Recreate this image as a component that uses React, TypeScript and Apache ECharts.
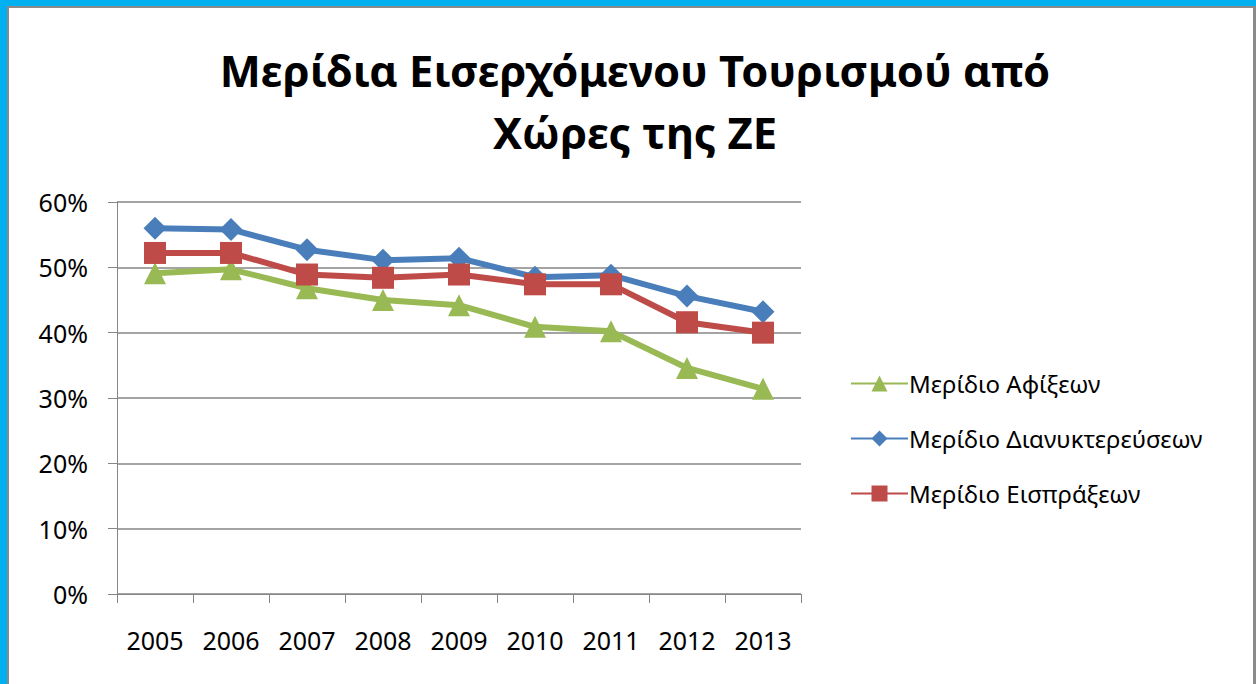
import React, { useEffect, useRef } from "react";
import * as echarts from "echarts";

const years = ["2005", "2006", "2007", "2008", "2009", "2010", "2011", "2012", "2013"];
const arrivalsShare = [49.1, 49.7, 46.8, 45.0, 44.2, 40.9, 40.2, 34.6, 31.4];
const overnightsShare = [56.0, 55.8, 52.7, 51.1, 51.4, 48.5, 48.8, 45.6, 43.2];
const receiptsShare = [52.2, 52.2, 48.9, 48.4, 48.9, 47.4, 47.4, 41.6, 40.0];
const yTicks = { min: 0, max: 60, interval: 10 };

const FONT = "'Noto Sans', 'Open Sans', sans-serif";
const GRID_GRAY = "#868686";

export default function App() {
  const ref = useRef<HTMLDivElement>(null);

  useEffect(() => {
    const chart = echarts.init(ref.current!, null, { renderer: "svg" });
    const mk = (name: string, data: number[], color: string, symbol: string, size: number) => ({
      name,
      type: "line",
      data,
      symbol,
      symbolSize: size,
      lineStyle: { color, width: 6 },
      itemStyle: { color },
      emphasis: { disabled: true },
    });
    chart.setOption({
      animation: false,
      backgroundColor: "transparent",
      textStyle: { fontFamily: FONT },
      title: {
        text: "Μερίδια Εισερχόμενου Τουρισμού από\nΧώρες της ΖΕ",
        left: 630,
        textAlign: "center",
        top: 34,
        textStyle: {
          fontFamily: FONT,
          fontSize: 43.5,
          fontWeight: "bold",
          color: "#000",
          lineHeight: 62,
        },
      },
      grid: { left: 117, right: 455, top: 202, bottom: 90, containLabel: false },
      legend: {
        orient: "vertical",
        left: 845,
        top: 366,
        itemWidth: 57,
        itemHeight: 20,
        itemGap: 30,
        data: ["Μερίδιο Αφίξεων", "Μερίδιο Διανυκτερεύσεων", "Μερίδιο Εισπράξεων"],
        textStyle: { fontFamily: FONT, fontSize: 24, lineHeight: 25, color: "#000", padding: [0, 0, 0, -4] },
      },
      xAxis: {
        type: "category",
        data: years,
        boundaryGap: true,
        axisLine: { lineStyle: { color: GRID_GRAY, width: 1 } },
        axisTick: { show: true, length: 9, lineStyle: { color: GRID_GRAY } },
        axisLabel: { fontFamily: FONT, fontSize: 25, color: "#000", margin: 33 },
      },
      yAxis: {
        type: "value",
        min: yTicks.min,
        max: yTicks.max,
        interval: yTicks.interval,
        axisLine: { show: true, lineStyle: { color: GRID_GRAY, width: 1 } },
        axisTick: { show: true, length: 9, lineStyle: { color: GRID_GRAY } },
        axisLabel: { fontFamily: FONT, fontSize: 25, color: "#000", margin: 29, formatter: "{value}%" },
        splitLine: { lineStyle: { color: GRID_GRAY, width: 1.5 } },
      },
      series: [
        mk("Μερίδιο Αφίξεων", arrivalsShare, "#98B954", "triangle", 22),
        mk("Μερίδιο Διανυκτερεύσεων", overnightsShare, "#4A7EBB", "diamond", 23),
        mk("Μερίδιο Εισπράξεων", receiptsShare, "#BE4B48", "rect", 22),
      ],
    });
    return () => chart.dispose();
  }, []);

  return (
    <div style={{ position: "fixed", left: 0, top: 0, width: 1256, height: 684, background: "#00B0F0", overflow: "hidden" }}>
      <div
        style={{
          position: "absolute",
          left: 7,
          top: 6,
          width: 1249,
          height: 700,
          background: "#fff",
          borderLeft: "2px solid #8a8a8a",
          borderTop: "2px solid #8a8a8a",
          borderRight: "3px solid #8a8a8a",
          boxSizing: "border-box",
        }}
      />
      <div ref={ref} style={{ position: "absolute", left: 0, top: 0, width: 1256, height: 684 }} />
    </div>
  );
}
